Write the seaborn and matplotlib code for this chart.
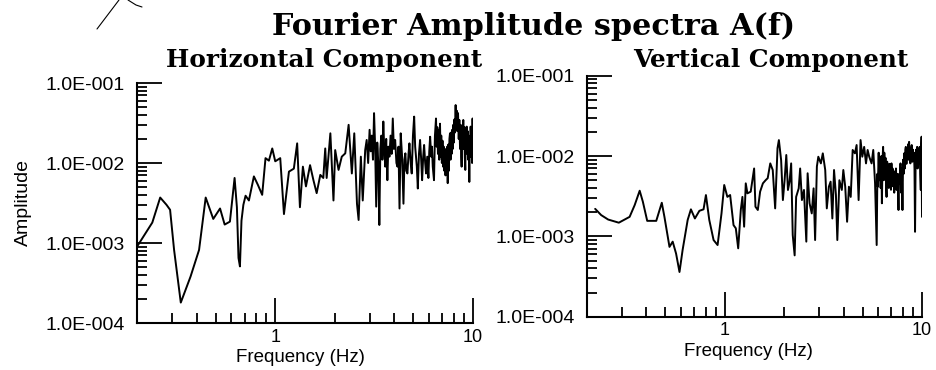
import numpy as np
import pandas as pd
import matplotlib
matplotlib.use("Agg")
import matplotlib.pyplot as plt
import seaborn as sns
from matplotlib.ticker import FixedLocator, FixedFormatter, NullFormatter
from matplotlib.lines import Line2D

# ---------------- data ----------------
h_freq = [0.200, 0.239, 0.262, 0.282, 0.294, 0.308, 0.333, 0.373, 0.412, 0.445,
          0.486, 0.526, 0.555, 0.590, 0.623, 0.640, 0.652, 0.663, 0.675, 0.690,
          0.708, 0.736, 0.780, 0.818, 0.859, 0.893, 0.929, 0.966, 1.00, 1.06,
          1.107, 1.173, 1.242, 1.291, 1.333, 1.38, 1.43, 1.50, 1.56, 1.62,
          1.69, 1.75, 1.79, 1.82, 1.90, 1.97, 2.01, 2.09, 2.17, 2.26,
          2.35, 2.44, 2.51, 2.59, 2.64, 2.71, 2.77, 2.85, 2.90, 2.95,
          3.00, 3.04, 3.08, 3.12, 3.16, 3.20, 3.24, 3.28, 3.32, 3.36,
          3.40, 3.44, 3.48, 3.52, 3.56, 3.60, 3.64, 3.69, 3.73, 3.78,
          3.83, 3.88, 3.93, 3.98, 4.04, 4.10, 4.15, 4.20, 4.25, 4.31,
          4.38, 4.45, 4.50, 4.55, 4.60, 4.66, 4.72, 4.77, 4.84, 4.90,
          4.97, 5.04, 5.10, 5.15, 5.20, 5.26, 5.33, 5.40, 5.47, 5.53,
          5.60, 5.66, 5.73, 5.79, 5.87, 5.95, 6.01, 6.07, 6.15, 6.20,
          6.26, 6.35, 6.42, 6.50, 6.55, 6.60, 6.65, 6.70, 6.75, 6.81,
          6.86, 6.91, 6.96, 7.01, 7.06, 7.11, 7.16, 7.21, 7.26, 7.31,
          7.36, 7.41, 7.45, 7.50, 7.55, 7.60, 7.65, 7.70, 7.75, 7.80,
          7.85, 7.90, 7.95, 8.00, 8.05, 8.10, 8.17, 8.22, 8.28, 8.33,
          8.40, 8.47, 8.53, 8.60, 8.66, 8.72, 8.76, 8.82, 8.88, 8.93,
          8.98, 9.04, 9.09, 9.14, 9.20, 9.25, 9.29, 9.34, 9.40, 9.45,
          9.51, 9.58, 9.64, 9.69, 9.73, 9.78, 9.84, 9.90, 9.95, 10.0]
h_amp = [9.0e-4, 1.8e-3, 3.7e-3, 3.0e-3, 2.6e-3, 8.2e-4, 1.8e-4, 3.8e-4, 8.2e-4, 3.7e-3,
         2.0e-3, 2.7e-3, 1.7e-3, 1.85e-3, 6.5e-3, 2.8e-3, 6.5e-4, 5.1e-4, 1.9e-3, 3.0e-3,
         3.9e-3, 3.4e-3, 6.8e-3, 5.3e-3, 4.0e-3, 1.15e-2, 1.07e-2, 1.52e-2, 1.05e-2, 1.15e-2,
         2.3e-3, 7.8e-3, 8.5e-3, 1.76e-2, 2.8e-3, 9.0e-3, 5.1e-3, 9.4e-3, 6.1e-3, 4.2e-3,
         7.1e-3, 6.5e-3, 1.52e-2, 6.5e-3, 2.35e-2, 3.4e-3, 1.45e-2, 8.2e-3, 1.2e-2, 1.32e-2,
         3.0e-2, 7.4e-3, 2.35e-2, 3.1e-3, 1.94e-3, 1.2e-2, 3.4e-3, 1.45e-2, 1.94e-2, 1.0e-2,
         2.6e-2, 1.4e-2, 2.2e-2, 1.1e-2, 4.2e-2, 1.6e-2, 2.85e-3, 1.8e-2, 1.0e-2, 1.68e-3,
         1.5e-2, 2.2e-2, 1.1e-2, 3.3e-2, 1.4e-2, 9.0e-3, 2.0e-2, 6.1e-3, 1.6e-2, 1.2e-2,
         2.2e-2, 1.3e-2, 3.6e-2, 1.5e-2, 1.94e-2, 1.0e-2, 9.0e-3, 1.6e-2, 2.7e-3, 2.35e-2,
         1.2e-2, 3.1e-3, 1.1e-2, 1.32e-2, 8.0e-3, 7.4e-3, 1.3e-2, 1.76e-2, 1.0e-2, 7.4e-3,
         2.2e-2, 3.8e-2, 1.6e-2, 1.2e-2, 9.0e-3, 4.8e-3, 1.3e-2, 1.94e-2, 1.1e-2, 6.1e-3,
         1.2e-2, 1.68e-2, 1.0e-2, 7.4e-3, 1.2e-2, 6.5e-3, 1.4e-2, 2.13e-2, 1.2e-2, 1.6e-2,
         9.0e-3, 6.1e-3, 2.2e-2, 3.6e-2, 1.6e-2, 2.8e-2, 1.3e-2, 2.6e-2, 1.1e-2, 3.1e-2,
         1.2e-2, 2.2e-2, 1.0e-2, 1.9e-2, 9.0e-3, 1.6e-2, 8.0e-3, 1.4e-2, 7.0e-3, 1.5e-2,
         8.2e-3, 1.6e-2, 5.6e-3, 1.7e-2, 8.0e-3, 2.0e-2, 2.35e-2, 1.1e-2, 2.4e-2, 1.3e-2,
         2.6e-2, 1.5e-2, 3.0e-2, 1.8e-2, 3.5e-2, 2.4e-2, 5.3e-2, 3.0e-2, 4.5e-2, 2.5e-2,
         4.2e-2, 2.0e-2, 3.45e-2, 1.5e-2, 3.0e-2, 1.2e-2, 9.0e-3, 2.5e-2, 1.6e-2, 3.45e-2,
         1.5e-2, 2.8e-2, 1.2e-2, 8.2e-3, 2.4e-2, 1.4e-2, 2.85e-2, 1.3e-2, 2.5e-2, 1.1e-2,
         2.2e-2, 5.8e-3, 2.0e-2, 1.2e-2, 2.85e-2, 1.4e-2, 2.6e-2, 1.0e-2, 3.6e-2, 1.5e-2]

v_freq = [0.220, 0.236, 0.256, 0.290, 0.329, 0.349, 0.370, 0.384, 0.404, 0.449,
          0.479, 0.494, 0.524, 0.544, 0.566, 0.589, 0.611, 0.648, 0.673, 0.705,
          0.743, 0.780, 0.802, 0.834, 0.877, 0.919, 0.962, 0.993, 1.03, 1.064,
          1.107, 1.137, 1.169, 1.205, 1.228, 1.253, 1.277, 1.302, 1.353, 1.408,
          1.43, 1.47, 1.51, 1.56, 1.61, 1.65, 1.70, 1.75, 1.80, 1.85,
          1.88, 1.93, 1.97, 2.01, 2.05, 2.09, 2.13, 2.17, 2.21, 2.26,
          2.30, 2.37, 2.41, 2.46, 2.52, 2.59, 2.63, 2.69, 2.76, 2.82,
          2.87, 2.93, 2.98, 3.07, 3.14, 3.23, 3.29, 3.37, 3.44, 3.51,
          3.58, 3.66, 3.72, 3.81, 3.92, 3.99, 4.08, 4.17, 4.26, 4.35,
          4.45, 4.57, 4.66, 4.77, 4.88, 4.98, 5.09, 5.20, 5.30, 5.40,
          5.55, 5.66, 5.78, 5.89, 5.94, 5.97, 6.03, 6.07, 6.11, 6.17,
          6.22, 6.26, 6.31, 6.35, 6.40, 6.44, 6.48, 6.53, 6.57, 6.61,
          6.66, 6.70, 6.74, 6.79, 6.83, 6.87, 6.92, 6.96, 7.00, 7.05,
          7.09, 7.14, 7.19, 7.23, 7.28, 7.33, 7.38, 7.43, 7.48, 7.54,
          7.60, 7.66, 7.72, 7.78, 7.84, 7.90, 7.96, 8.02, 8.07, 8.12,
          8.18, 8.23, 8.28, 8.34, 8.39, 8.44, 8.50, 8.55, 8.60, 8.66,
          8.73, 8.80, 8.87, 8.94, 9.00, 9.04, 9.10, 9.16, 9.22, 9.28,
          9.33, 9.38, 9.45, 9.50, 9.55, 9.62, 9.68, 9.73, 9.79, 9.86,
          9.90, 9.95, 10.0]
v_amp = [2.2e-3, 1.84e-3, 1.62e-3, 1.48e-3, 1.75e-3, 2.45e-3, 3.7e-3, 2.7e-3, 1.56e-3, 1.56e-3,
         2.62e-3, 1.75e-3, 7.4e-4, 8.6e-4, 6.1e-4, 3.6e-4, 6.8e-4, 1.6e-3, 2.17e-3, 1.67e-3,
         2.08e-3, 2.17e-3, 3.27e-3, 1.6e-3, 9.0e-4, 7.8e-4, 1.93e-3, 4.36e-3, 3.1e-3, 3.27e-3,
         1.38e-3, 1.26e-3, 7.1e-4, 2.13e-3, 3.1e-3, 1.32e-3, 4.57e-3, 3.43e-3, 3.6e-3, 7.0e-3,
         2.34e-3, 2.13e-3, 3.6e-3, 4.57e-3, 5.0e-3, 5.3e-3, 8.1e-3, 6.7e-3, 2.23e-3, 1.25e-2,
         1.58e-2, 8.9e-3, 2.83e-3, 5.0e-3, 1.03e-2, 3.78e-3, 4.8e-3, 8.1e-3, 1.04e-3, 5.8e-4,
         3.1e-3, 3.96e-3, 7.0e-3, 2.83e-3, 3.78e-3, 8.6e-4, 6.1e-3, 2.58e-3, 1.93e-3, 3.96e-3,
         9.0e-4, 7.4e-3, 9.8e-3, 8.1e-3, 1.08e-2, 6.7e-3, 2.23e-3, 4.15e-3, 4.8e-3, 1.67e-3,
         6.7e-3, 3.27e-3, 9.0e-4, 5.0e-3, 3.78e-3, 6.7e-3, 4.15e-3, 1.52e-3, 4.15e-3, 3.1e-3,
         1.19e-2, 1.08e-2, 1.37e-2, 2.83e-3, 1.58e-2, 9.8e-3, 1.3e-2, 8.1e-3, 1.19e-2, 9.8e-3,
         8.1e-3, 1.19e-2, 4.57e-3, 7.8e-4, 6.0e-3, 4.15e-3, 1.1e-2, 5.0e-3, 8.9e-3, 4.0e-3,
         1.0e-2, 2.58e-3, 9.0e-3, 1.3e-2, 5.0e-3, 1.1e-2, 6.7e-3, 9.5e-3, 4.5e-3, 3.1e-3,
         8.5e-3, 4.5e-3, 7.4e-3, 4.0e-3, 8.0e-3, 4.15e-3, 7.0e-3, 3.8e-3, 8.1e-3, 4.2e-3,
         7.0e-3, 4.57e-3, 6.5e-3, 3.5e-3, 6.1e-3, 4.0e-3, 7.0e-3, 3.78e-3, 6.0e-3, 4.5e-3,
         2.13e-3, 6.0e-3, 4.5e-3, 8.1e-3, 3.5e-3, 7.0e-3, 2.13e-3, 9.0e-3, 6.0e-3, 1.08e-2,
         7.0e-3, 1.2e-2, 1.3e-2, 8.0e-3, 1.2e-2, 9.8e-3, 1.4e-2, 9.0e-3, 1.5e-2, 1.0e-2,
         8.1e-3, 1.2e-2, 1.37e-2, 8.5e-3, 1.2e-2, 9.8e-3, 1.1e-2, 7.0e-3, 1.14e-3, 8.0e-3,
         1.2e-2, 9.8e-3, 1.3e-2, 7.0e-3, 8.1e-3, 1.2e-2, 8.0e-3, 1.3e-2, 6.0e-3, 3.78e-3,
         1.2e-2, 1.74e-2, 1.75e-3]

main_title = "Fourier Amplitude spectra A(f)"
panel_titles = ["Horizontal Component", "Vertical Component"]
ytick_values = [1e-4, 1e-3, 1e-2, 1e-1]
ytick_labels = ["1.0E-004", "1.0E-003", "1.0E-002", "1.0E-001"]
xtick_values = [1, 10]
xtick_labels = ["1", "10"]
x_minor = [0.3, 0.4, 0.5, 0.6, 0.7, 0.8, 0.9, 2, 3, 4, 5, 6, 7, 8, 9]
y_minor = [m * d for d in [1e-4, 1e-3, 1e-2] for m in range(2, 10)]
x_label = "Frequency (Hz)"
y_label = "Amplitude"

# ---------------- figure ----------------
sns.set_theme(style="white")
plt.rcParams['font.family'] = ['Liberation Sans', 'DejaVu Sans']

W, H = 936, 370
fig = plt.figure(figsize=(W / 100, H / 100), dpi=100)
fig.patch.set_facecolor("white")

ax1 = fig.add_axes([137 / W, 1 - 323 / H, 336 / W, 240 / H])
ax2 = fig.add_axes([587 / W, 1 - 316.7 / H, 335 / W, 241 / H])

dfs = [pd.DataFrame({"f": h_freq, "a": h_amp}),
       pd.DataFrame({"f": v_freq, "a": v_amp})]

for ax, df in zip([ax1, ax2], dfs):
    ax.set_facecolor("white")
    sns.lineplot(data=df, x="f", y="a", ax=ax, color="black", linewidth=1.4,
                 estimator=None, sort=False)
    ax.set_xscale("log")
    ax.set_yscale("log")
    ax.set_xlim(0.2, 10)
    ax.set_ylim(1e-4, 1e-1)
    for s in ["top", "right"]:
        ax.spines[s].set_visible(False)
    for s in ["left", "bottom"]:
        ax.spines[s].set_visible(True)
        ax.spines[s].set_color("black")
        ax.spines[s].set_linewidth(1.5)
    ax.xaxis.set_major_locator(FixedLocator(xtick_values))
    ax.xaxis.set_major_formatter(FixedFormatter(xtick_labels))
    ax.xaxis.set_minor_locator(FixedLocator(x_minor))
    ax.xaxis.set_minor_formatter(NullFormatter())
    ax.yaxis.set_major_locator(FixedLocator(ytick_values))
    ax.yaxis.set_major_formatter(FixedFormatter(ytick_labels))
    ax.yaxis.set_minor_locator(FixedLocator(y_minor))
    ax.yaxis.set_minor_formatter(NullFormatter())
    ax.tick_params(which="both", direction="in", colors="black",
                   bottom=True, left=True, top=False, right=False)
    ax.tick_params(which="major", length=18, width=1.3)
    ax.tick_params(which="minor", length=7.5, width=1.3)
    ax.tick_params(axis="x", which="major", labelsize=13, pad=4)
    ax.tick_params(axis="y", which="major", labelsize=14, pad=8.5)
    ax.set_xlabel(x_label, fontsize=13.5, color="black")
    ax.set_ylabel("")
    ax.grid(False)

ax1.xaxis.set_label_coords(0.485, -0.108)
ax2.xaxis.set_label_coords(0.482, -0.108)
ax1.set_ylabel(y_label, fontsize=14, color="black")
ax1.yaxis.set_label_coords(-0.312, 0.5)

# titles
serif = ["DejaVu Serif"]
fig.text(534 / W, 1 - 35 / H, main_title, ha="center", va="baseline",
         fontsize=21.8, fontweight="bold", family=serif, color="black")
fig.text(324 / W, 1 - 67 / H, panel_titles[0], ha="center", va="baseline",
         fontsize=17.8, fontweight="bold", family=serif, color="black")
fig.text(771 / W, 1 - 67 / H, panel_titles[1], ha="center", va="baseline",
         fontsize=17.8, fontweight="bold", family=serif, color="black")

# fragment of a logo at the top-left corner
fig.add_artist(Line2D([97 / W, 119 / W], [1 - 29 / H, 1.0], color="black",
                      linewidth=0.8, transform=fig.transFigure))
fig.add_artist(Line2D([128 / W, 136 / W, 142 / W], [1.0, 1 - 5 / H, 1 - 7 / H],
                      color="black", linewidth=0.8, transform=fig.transFigure))

fig.savefig("out.png", dpi=100, facecolor="white")
